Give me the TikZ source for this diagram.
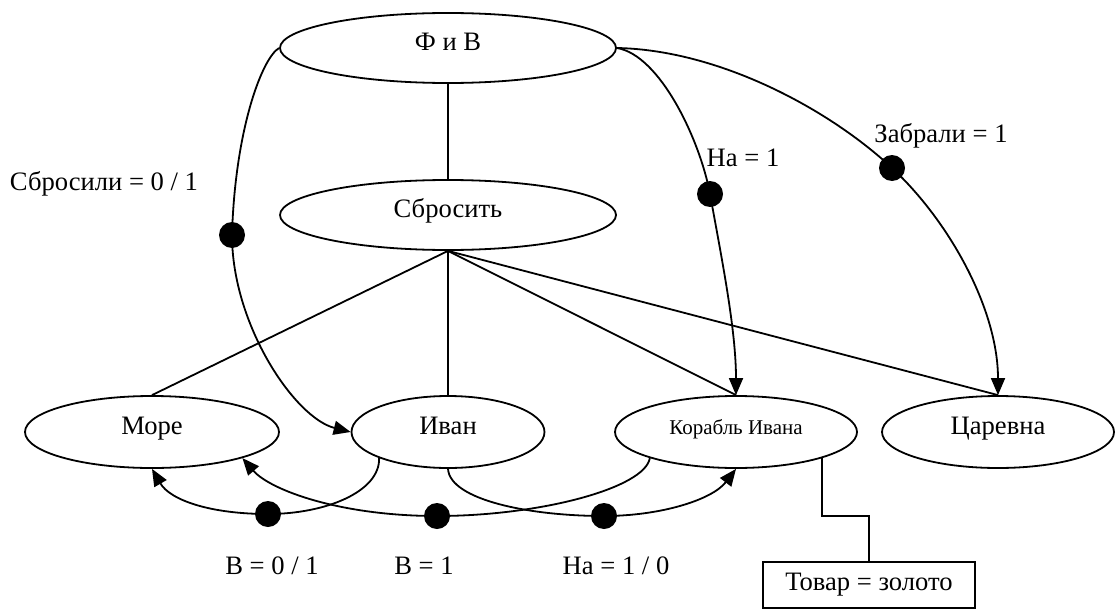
\documentclass[tikz,border=0pt]{standalone}
\usepackage{fontspec}
\setmainfont{Liberation Serif}
\usetikzlibrary{arrows.meta}
\usetikzlibrary{shapes.geometric}

\tikzset{
  obj/.style={draw, ellipse, line width=1.8pt, inner sep=0pt, minimum height=72pt, text height=0.7em, text depth=0.25em},
  rel/.style={line width=1.8pt},
  bullet/.style={circle, fill=black, inner sep=0pt, minimum size=26pt},
  lbl/.style={anchor=base, inner sep=0pt},
}

\begin{document}
\begin{tikzpicture} [x=1pt, y=-1pt, >={Triangle[length=17pt,width=14pt]}, font=\fontsize{26.6}{32}\selectfont]
\useasboundingbox (0,0) rectangle (1116,610);
\node[obj, minimum width=336pt, minimum height=70pt] (fiv) at (448,48) {Ф и В};
\node[obj, minimum width=336pt, minimum height=70pt] (sbros) at (448,215) {Сбросить};
\node[obj, minimum width=254pt] (more) at (152,432) {Море};
\node[obj, minimum width=193pt] (ivan) at (448,432) {Иван};
\node[obj, minimum width=242pt, font=\fontsize{21}{25}\selectfont] (korabl) at (736,432) {Корабль Ивана};
\node[obj, minimum width=232pt] (tsar) at (998,432) {Царевна};
\node[draw, rel, minimum width=212pt, minimum height=46pt] (tovar) at (869,585) {Товар = золото};

\node[bullet] (dsb) at (232,235) {};
\node[bullet] (dna) at (710,194) {};
\node[bullet] (dzab) at (892,168) {};
\node[bullet] (dv0) at (268,514) {};
\node[bullet] (dv1) at (437,516) {};
\node[bullet] (dna10) at (604,516) {};

\draw[rel] (fiv.south) -- (sbros.north);
\foreach \n in {more,ivan,korabl,tsar}
  \draw[rel] (sbros.south) -- (\n.north);
\draw[rel] (korabl.south east) -- ++(0,58) -| (tovar.north);

\draw[rel,->] (fiv.west) .. controls (262,58) and (235,130) .. (dsb.center) .. controls (232,325) and (295,418) .. (ivan.west);
\draw[rel,->] (fiv.east) .. controls (660,55) and (700,140) .. (dna.center) .. controls (722,260) and (736,330) .. (korabl.north);
\draw[rel,->] (fiv.east) .. controls (720,50) and (830,110) .. (dzab.center) .. controls (950,222) and (998,310) .. (tsar.north);
\draw[rel,->] (ivan.south west) .. controls (380,492) and (325,514) .. (dv0.center) .. controls (210,514) and (170,500) .. (more.south);
\draw[rel,->] (korabl.south west) .. controls (645,488) and (540,516) .. (dv1.center) .. controls (340,516) and (270,490) .. (more.south east);
\draw[rel,->] (ivan.south) .. controls (450,500) and (530,516) .. (dna10.center) .. controls (660,516) and (712,500) .. (korabl.south);

\node[lbl] (lsb) at (104,190) {Сбросили = 0 / 1};
\node[lbl] (lna) at (743,166) {На = 1};
\node[lbl] (lzab) at (941,142) {Забрали = 1};
\node[lbl] (lv0) at (272,574) {В = 0 / 1};
\node[lbl] (lv1) at (424,574) {В = 1};
\node[lbl] (lna10) at (616,574) {На = 1 / 0};
\end{tikzpicture}
\end{document}
